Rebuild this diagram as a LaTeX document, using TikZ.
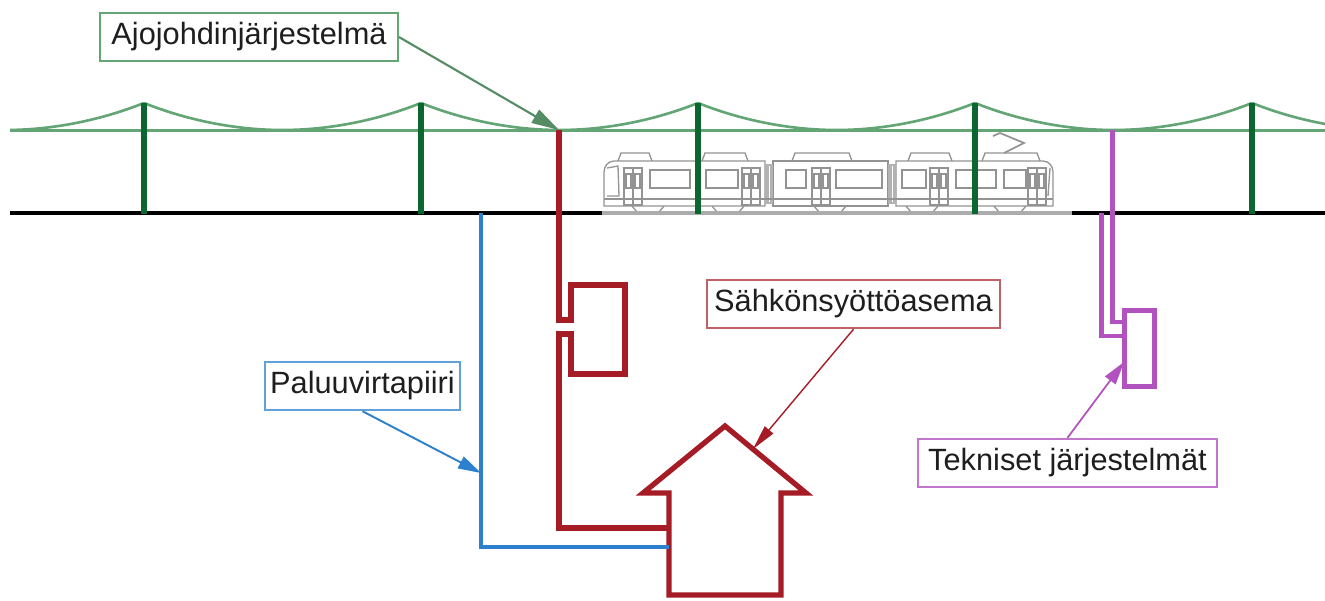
\documentclass[tikz,border=0pt]{standalone}
\usepackage{fontspec}
\setmainfont{Liberation Sans}
\usetikzlibrary{arrows.meta}

\begin{document}
\begin{tikzpicture}[x=0.02cm, y=-0.02cm, font=\fontsize{17.5}{20}\selectfont]
\def\wy{130}
\def\ty{213}
\def\py{103}
\def\sp{277}
\definecolor{cW}{RGB}{100,165,118}
\definecolor{cP}{RGB}{12,102,48}
\definecolor{cR}{RGB}{165,28,38}
\definecolor{cB}{RGB}{45,128,205}
\definecolor{cV}{RGB}{178,82,190}
\definecolor{cT}{RGB}{30,30,30}
\tikzset{
  lbl/.style={draw=#1, line width=1.1pt, fill=white, text=cT, minimum height=0.97cm, inner xsep=2pt},
  pnt/.style={draw=#1, -{Triangle[length=0.46cm, width=0.26cm]}},
  tram/.style={draw=gray!85, line width=0.75pt}
}
\useasboundingbox (0,0) rectangle (1325,600);

\begin{scope}
\clip (10,0) rectangle (1325,600);
\foreach \x in {-133,144,421,698,975,1252}{
    \draw[cW, line width=1.5pt] (\x,\py) parabola bend (\x+\sp/2,\wy) (\x+\sp,\py);
}
\draw[cW, line width=1.7pt] (10,\wy) -- (1325,\wy);
\end{scope}

\draw[tram] (604,206) -- (604,172) to[out=90,in=180] (614,161) -- (765,161) -- (765,206) -- cycle;
\draw[tram] (773,161) rectangle (888,206);
\draw[tram] (896,206) -- (896,161) -- (1043,161) to[out=0,in=90] (1053,172) -- (1053,206) -- cycle;
\foreach \a/\b in {765/773, 888/896}{
    \fill[gray!60] (\a,164) rectangle (\b,204);
    \draw[white, line width=0.4pt] ({(\a+\b)/2},166) -- ({(\a+\b)/2},202);
}
\foreach \a/\b in {618/652, 702/748, 792/852, 908/952, 982/1040}{
    \draw[tram] (\a,161) -- (\a+3,153) -- (\b-3,153) -- (\b,161);
}
\foreach \a/\b in {650/690, 706/738, 786/806, 836/882, 902/926, 956/996, 1004/1026}{
    \draw[tram] (\a,170) rectangle (\b,188);
}
\foreach \a in {624, 742, 812, 930, 1028}{
    \draw[tram] (\a,168) rectangle ++(9,37);
    \draw[tram] (\a+9,168) rectangle ++(9,37);
    \draw[tram] (\a+2,174) rectangle ++(5,14);
    \draw[tram] (\a+11,174) rectangle ++(5,14);
}
\draw[tram] (607,168) -- (618,166) -- (619,196) -- (607,196);
\draw[tram] (1050,168) -- (1048,196);
\draw[tram] (604,199) -- (1053,199);
\foreach \x in {648, 728, 830, 922, 1010}{
    \draw[tram] (\x-16,206) -- (\x-11,212) -- (\x+11,212) -- (\x+16,206);
}
\draw[tram, line width=1pt] (1004,153) -- (1024,143) -- (1000,133) -- (993,136);

\draw[line width=2.6pt] (10,\ty) -- (602,\ty);
\draw[gray!65, line width=2.6pt] (602,\ty) -- (1072,\ty);
\draw[line width=2.6pt] (1072,\ty) -- (1325,\ty);

\foreach \x in {144,421,698,975,1252}{
    \draw[cP, line width=3.6pt] (\x,\py) -- (\x,\ty+1);
}

\coordinate (feed) at (559,\wy);
\coordinate (ret) at (481,473);
\coordinate (roof) at (753,449);
\coordinate (tech) at (1124,362);

\draw[cR, line width=3pt] (feed) -- (559,320) -- (571,320) -- (571,285) -- (625,285) -- (625,374)
    -- (571,374) -- (571,334) -- (559,334) -- (559,528) -- (669,528);
\draw[cR, line width=3pt] (669,595) -- (669,493) -- (643,493) -- (725,426) -- (806,493)
    -- (781,493) -- (781,595) -- cycle;
\draw[cB, line width=2.4pt] (481,\ty) -- (481,547) -- (669,547);
\draw[cV, line width=2.4pt] (1112.5,\wy) -- (1112.5,322) -- (1124.5,322);
\draw[cV, line width=2.4pt] (1101.5,\ty) -- (1101.5,336) -- (1124.5,336);
\draw[cV, line width=2.4pt] (1124.5,310.5) rectangle (1154.5,386.5);

\node[lbl=cW, minimum width=5.96cm] (ajo) at (249,37) {Ajojohdinjärjestelmä};
\node[lbl=cR!70, minimum width=5.86cm] (sahko) at (853.5,304) {Sähkönsyöttöasema};
\node[lbl=cB!75, minimum width=3.9cm] (paluu) at (362.5,386) {Paluuvirtapiiri};
\node[lbl=cV!80, minimum width=5.98cm] (tekn) at (1067.5,463) {Tekniset järjestelmät};

\draw[pnt=cW!85!black, line width=1.2pt, -{Triangle[length=0.55cm, width=0.3cm]}] (ajo.east) -- (feed);
\draw[pnt=cR, line width=0.8pt, -{Triangle[length=0.5cm, width=0.22cm]}] (sahko.south) -- (roof);
\draw[pnt=cB, line width=1.1pt] (paluu.south) -- (ret);
\draw[pnt=cV, line width=1pt] (tekn.north) -- (tech);
\end{tikzpicture}
\end{document}
